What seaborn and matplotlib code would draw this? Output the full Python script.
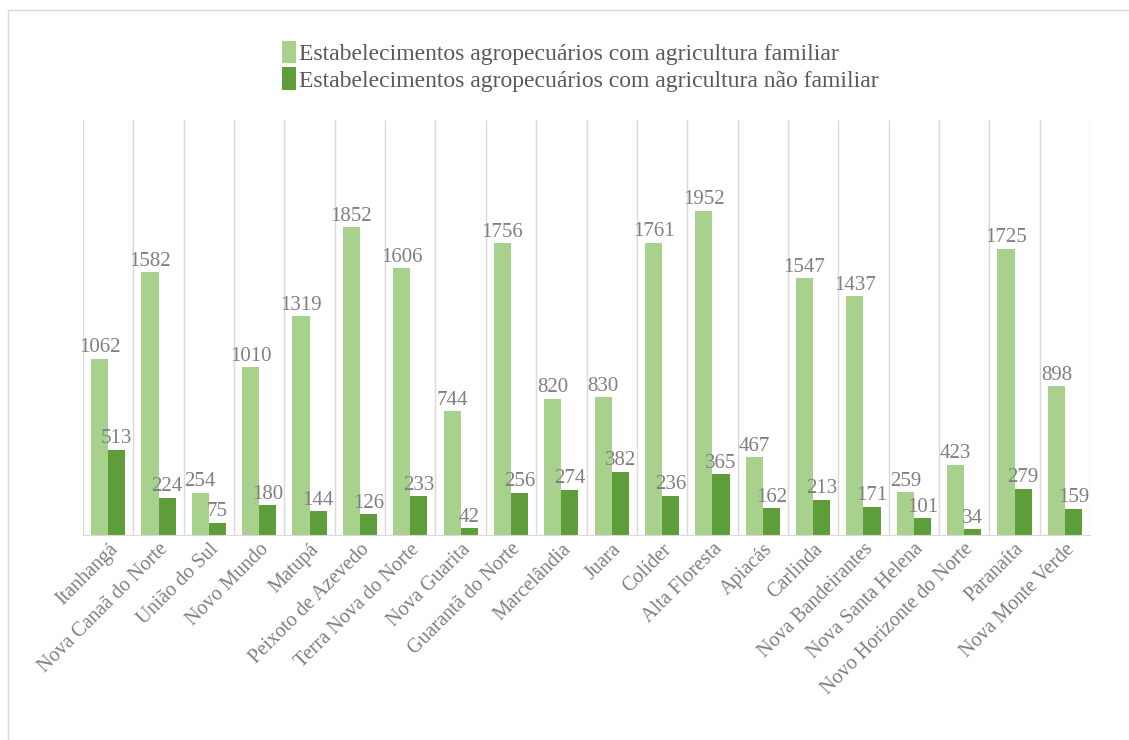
import pandas as pd
import numpy as np
import matplotlib.pyplot as plt
import seaborn as sns
from matplotlib.patches import Rectangle

municipios = ["Itanhangá", "Nova Canaã do Norte", "União do Sul", "Novo Mundo", "Matupá",
              "Peixoto de Azevedo", "Terra Nova do Norte", "Nova Guarita", "Guarantã do Norte",
              "Marcelândia", "Juara", "Colíder", "Alta Floresta", "Apiacás", "Carlinda",
              "Nova Bandeirantes", "Nova Santa Helena", "Novo Horizonte do Norte", "Paranaíta",
              "Nova Monte Verde"]
familiar = [1062, 1582, 254, 1010, 1319, 1852, 1606, 744, 1756, 820, 830, 1761, 1952, 467,
            1547, 1437, 259, 423, 1725, 898]
nao_familiar = [513, 224, 75, 180, 144, 126, 233, 42, 256, 274, 382, 236, 365, 162, 213,
                171, 101, 34, 279, 159]
series = ["Estabelecimentos agropecuários com agricultura familiar",
          "Estabelecimentos agropecuários com agricultura não familiar"]

df = pd.DataFrame({
    "municipio": municipios * 2,
    "valor": familiar + nao_familiar,
    "serie": [series[0]] * len(municipios) + [series[1]] * len(municipios),
})

sns.set_style("white")
plt.rcParams["font.family"] = ["Liberation Serif", "DejaVu Serif"]
cinza = "#7f7f7f"

fig = plt.figure(figsize=(11.29, 7.4), dpi=100)
ax = fig.add_axes([0.0735, 0.277, 0.892, 0.561])
sns.barplot(data=df, x="municipio", y="valor", hue="serie",
            palette=["#a9d18e", "#5e9e3a"], width=0.68, saturation=1,
            linewidth=0, edgecolor="none", ax=ax)

for cont in ax.containers:
    ax.bar_label(cont, fontsize=15, color=cinza, padding=1)

n = len(municipios)
ax.set_xlim(-0.5, n - 0.5)
ax.set_ylim(0, 2500)
ax.set_yticks([])
ax.set_xlabel("")
ax.set_ylabel("")
ax.set_xticks(np.arange(-0.5, n, 1), minor=True)
ax.grid(which="minor", axis="x", color="#d9d9d9", linewidth=1)
ax.tick_params(which="both", length=0)
ax.set_xticks(range(n))
ax.set_xticklabels(municipios, rotation=45, ha="right", rotation_mode="anchor",
                   fontsize=14.5, color=cinza)
for s in ["top", "right", "left"]:
    ax.spines[s].set_visible(False)
ax.spines["bottom"].set_color("#d9d9d9")

h, l = ax.get_legend_handles_labels()
ax.get_legend().remove()
leg = fig.legend(h, l, loc="upper center", bbox_to_anchor=(0.514, 0.958), ncol=1,
                 frameon=False, fontsize=17, handlelength=0.6, handleheight=1.1,
                 handletextpad=0.15, labelspacing=0.1, borderaxespad=0)
for t in leg.get_texts():
    t.set_color("#595959")

fig.patches.append(Rectangle((0.007, -0.01), 1.0, 0.997, transform=fig.transFigure,
                             fill=False, edgecolor="#d9d9d9", linewidth=1))

fig.savefig("out.png", dpi=100)
